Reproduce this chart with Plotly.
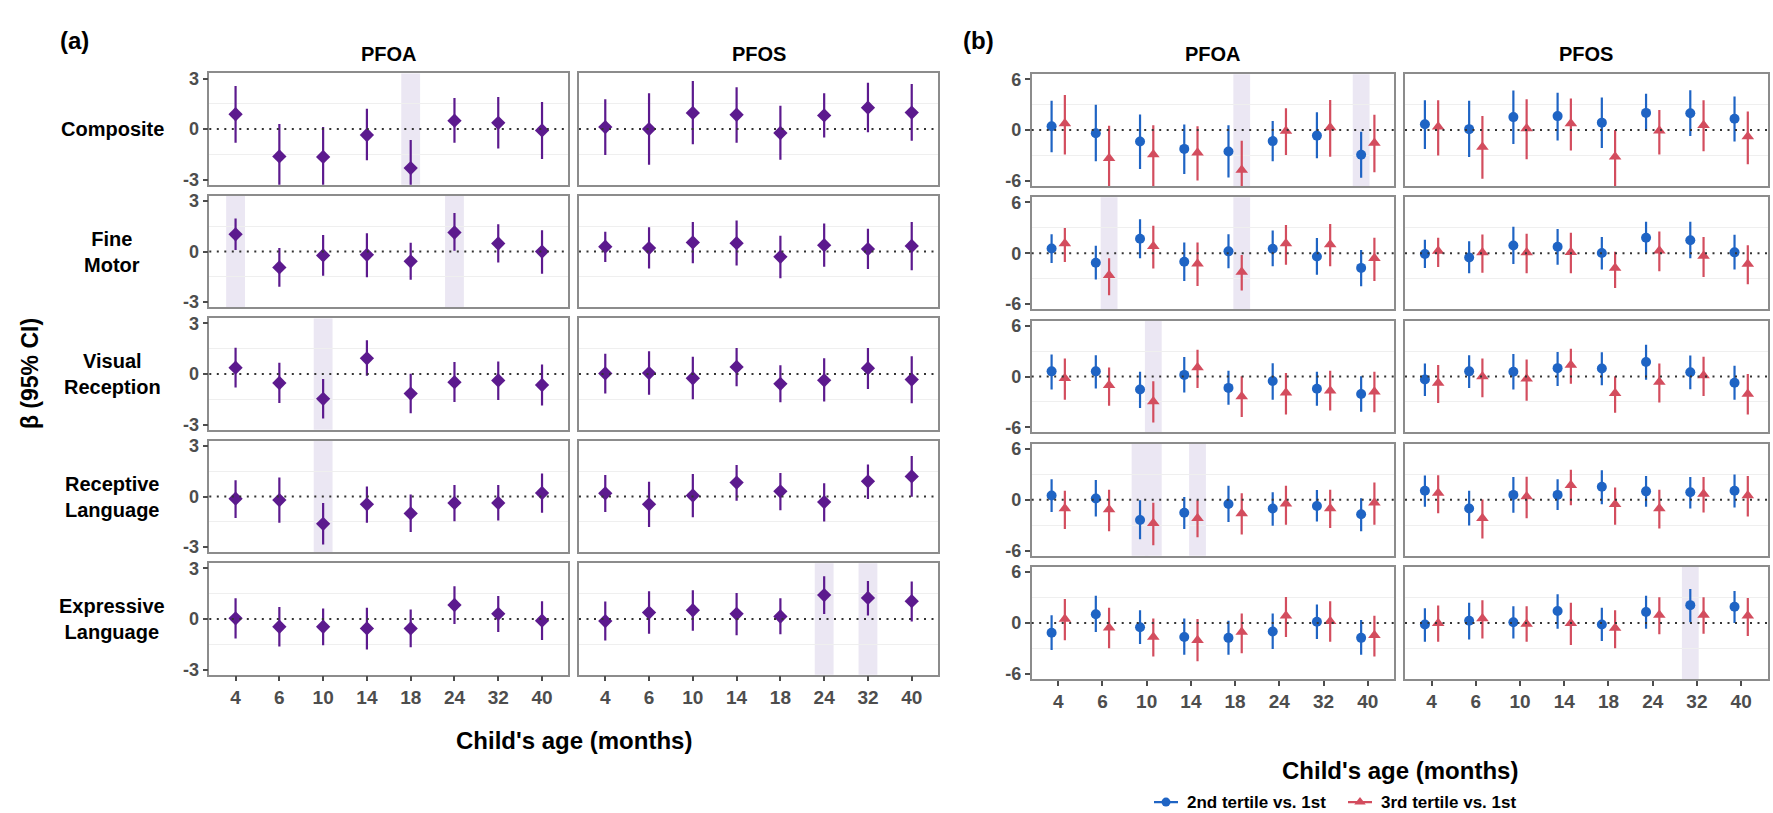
import plotly.graph_objects as go

W, H = 1773, 813

# ---------------- data ----------------
ages = ["4", "6", "10", "14", "18", "24", "32", "40"]
outcomes = ["Composite", "Fine Motor", "Visual Reception", "Receptive Language", "Expressive Language"]
row_labels = ["Composite", "Fine<br>Motor", "Visual<br>Reception", "Receptive<br>Language", "Expressive<br>Language"]
chemicals = ["PFOA", "PFOS"]
series_names = ["2nd tertile vs. 1st", "3rd tertile vs. 1st"]

# (a) continuous exposure: estimate, lower, upper  (rows = outcomes, cols = ages)
a_pfoa_est = [[0.88, -1.62, -1.65, -0.35, -2.31, 0.50, 0.37, -0.08],
              [1.02, -0.94, -0.23, -0.19, -0.58, 1.13, 0.48, 0.00],
              [0.38, -0.53, -1.47, 0.93, -1.16, -0.48, -0.38, -0.65],
              [-0.13, -0.21, -1.62, -0.46, -1.00, -0.38, -0.38, 0.21],
              [0.04, -0.46, -0.46, -0.56, -0.56, 0.83, 0.31, -0.10]]
a_pfoa_lo = [[-0.81, -3.60, -3.50, -1.85, -4.00, -0.81, -1.15, -1.77],
             [0.10, -2.08, -1.44, -1.52, -1.67, 0.05, -0.65, -1.31],
             [-0.80, -1.71, -2.63, -0.10, -2.32, -1.66, -1.54, -1.87],
             [-1.27, -1.56, -2.85, -1.56, -2.10, -1.46, -1.42, -0.96],
             [-1.15, -1.63, -1.56, -1.81, -1.67, -0.29, -0.77, -1.25]]
a_pfoa_hi = [[2.56, 0.31, 0.12, 1.21, -0.65, 1.85, 1.90, 1.60],
             [1.96, 0.21, 0.98, 1.08, 0.52, 2.29, 1.62, 1.27],
             [1.56, 0.67, -0.30, 2.00, 0.02, 0.72, 0.74, 0.57],
             [0.96, 1.13, -0.38, 0.60, 0.12, 0.69, 0.69, 1.37],
             [1.23, 0.71, 0.63, 0.67, 0.56, 1.94, 1.37, 1.06]]
a_pfos_est = [[0.12, 0.00, 0.96, 0.85, -0.23, 0.81, 1.27, 0.98],
              [0.29, 0.21, 0.54, 0.50, -0.31, 0.38, 0.15, 0.33],
              [0.04, 0.06, -0.25, 0.42, -0.58, -0.37, 0.35, -0.33],
              [0.19, -0.46, 0.06, 0.83, 0.31, -0.33, 0.90, 1.19],
              [-0.12, 0.38, 0.52, 0.31, 0.15, 1.42, 1.25, 1.06]]
a_pfos_lo = [[-1.54, -2.12, -0.90, -0.81, -1.81, -0.50, -0.19, -0.69],
             [-0.62, -1.00, -0.69, -0.83, -1.58, -0.90, -1.04, -1.10],
             [-1.15, -1.23, -1.50, -0.73, -1.67, -1.63, -0.88, -1.73],
             [-0.92, -1.81, -1.23, -0.25, -0.81, -1.48, -0.15, -0.02],
             [-1.27, -0.88, -0.69, -0.96, -0.90, 0.29, 0.21, -0.15]]
a_pfos_hi = [[1.77, 2.12, 2.85, 2.48, 1.38, 2.12, 2.75, 2.67],
             [1.17, 1.44, 1.75, 1.85, 0.94, 1.67, 1.35, 1.75],
             [1.21, 1.35, 1.02, 1.54, 0.52, 0.94, 1.54, 1.06],
             [1.27, 0.87, 1.33, 1.87, 1.40, 0.79, 1.90, 2.40],
             [1.04, 1.65, 1.71, 1.54, 1.23, 2.54, 2.25, 2.23]]

# (b) tertiles: t2 = 2nd vs 1st, t3 = 3rd vs 1st
b_pfoa_t2_est = [[0.46, -0.38, -1.34, -2.22, -2.53, -1.30, -0.65, -2.91],
                 [0.57, -1.11, 1.72, -1.00, 0.23, 0.54, -0.38, -1.72],
                 [0.61, 0.61, -1.53, 0.19, -1.34, -0.53, -1.45, -2.06],
                 [0.50, 0.15, -2.38, -1.53, -0.50, -1.03, -0.73, -1.72],
                 [-1.15, 1.03, -0.50, -1.65, -1.76, -1.00, 0.15, -1.76]]
b_pfoa_t2_lo = [[-2.60, -3.68, -4.60, -5.17, -5.60, -3.68, -3.33, -5.63],
                [-1.15, -3.10, -0.57, -3.26, -1.76, -1.53, -2.53, -3.90],
                [-1.53, -1.41, -3.70, -1.87, -3.32, -2.75, -3.44, -4.16],
                [-1.46, -1.99, -4.67, -3.45, -2.64, -3.07, -2.57, -3.72],
                [-3.18, -1.07, -2.49, -3.75, -3.75, -3.07, -1.88, -3.75]]
b_pfoa_t2_hi = [[3.45, 3.00, 1.84, 0.65, 0.57, 1.07, 2.10, -0.19],
                [2.26, 0.88, 4.02, 1.26, 2.26, 2.68, 1.80, 0.38],
                [2.60, 2.52, 0.57, 2.29, 0.69, 1.56, 0.57, 0.02],
                [2.41, 2.34, -0.05, 0.31, 1.65, 0.88, 1.15, 0.19],
                [0.92, 3.22, 1.49, 0.54, 0.27, 1.11, 2.18, 0.34]]
b_pfoa_t3_est = [[0.77, -3.33, -2.87, -2.68, -4.71, -0.11, 0.31, -1.53],
                 [1.15, -2.60, 0.84, -1.23, -2.22, 1.15, 1.03, -0.57],
                 [-0.19, -1.03, -2.94, 1.07, -2.37, -1.91, -1.68, -1.79],
                 [-1.03, -1.15, -2.76, -2.18, -1.61, -0.46, -1.03, -0.34],
                 [0.46, -0.57, -1.65, -2.03, -1.07, 0.84, 0.19, -1.46]]
b_pfoa_t3_lo = [[-2.87, -7.00, -6.90, -5.94, -8.00, -2.95, -3.14, -4.98],
                [-1.03, -4.94, -1.80, -3.87, -4.40, -1.34, -1.53, -3.26],
                [-2.75, -3.44, -5.42, -1.34, -4.77, -4.47, -4.00, -4.20],
                [-3.45, -3.72, -5.36, -4.41, -4.10, -2.95, -3.33, -2.95],
                [-2.03, -2.99, -3.95, -4.52, -3.56, -1.65, -2.22, -3.95]]
b_pfoa_t3_hi = [[4.14, 0.50, 0.57, 0.46, -1.26, 2.57, 3.56, 1.80],
                [2.99, -0.57, 3.26, 1.26, -0.19, 3.33, 3.45, 1.84],
                [2.14, 1.07, -0.57, 3.17, 0.02, 0.42, 0.69, 0.57],
                [1.07, 1.19, -0.34, -0.05, 0.77, 1.65, 1.19, 2.03],
                [2.83, 1.80, 0.54, 0.46, 1.11, 3.07, 2.57, 0.84]]
b_pfos_t2_est = [[0.69, 0.11, 1.53, 1.65, 0.88, 2.03, 1.99, 1.34],
                 [-0.08, -0.50, 0.92, 0.77, 0.04, 1.84, 1.53, 0.11],
                 [-0.34, 0.61, 0.57, 0.99, 0.95, 1.72, 0.50, -0.73],
                 [1.07, -1.03, 0.57, 0.57, 1.53, 0.99, 0.88, 1.07],
                 [-0.19, 0.27, 0.08, 1.41, -0.19, 1.30, 2.10, 1.91]]
b_pfos_t2_lo = [[-2.22, -3.18, -1.65, -1.23, -2.11, -0.11, -0.69, -1.34],
                [-1.72, -2.34, -1.26, -1.34, -1.92, -0.02, -0.57, -1.92],
                [-2.29, -1.34, -1.53, -1.11, -1.03, -0.38, -1.49, -2.75],
                [-0.84, -3.05, -1.53, -1.22, -0.53, -0.84, -1.03, -0.92],
                [-2.21, -1.95, -1.83, -0.69, -2.14, -0.69, 0.08, -0.02]]
b_pfos_t2_hi = [[3.52, 3.45, 4.67, 4.41, 3.83, 4.29, 4.71, 3.95],
                [1.61, 1.42, 3.14, 2.87, 1.92, 3.72, 3.72, 2.18],
                [1.53, 2.52, 2.67, 2.90, 2.86, 3.74, 2.48, 1.26],
                [2.86, 1.07, 2.67, 2.41, 3.47, 2.79, 2.67, 2.98],
                [1.72, 2.37, 1.98, 3.40, 1.79, 3.21, 4.01, 3.78]]
b_pfos_t3_est = [[0.38, -1.99, 0.19, 0.77, -3.14, -0.08, 0.57, -0.77],
                 [0.27, 0.08, 0.08, 0.11, -1.72, 0.31, -0.31, -1.26],
                 [-0.76, 0.00, -0.27, 1.37, -1.98, -0.65, 0.11, -2.06],
                 [0.80, -2.18, 0.38, 1.72, -0.53, -1.03, 0.69, 0.50],
                 [-0.04, 0.53, -0.11, -0.04, -0.61, 0.95, 0.95, 0.84]]
b_pfos_t3_lo = [[-2.99, -5.75, -3.45, -2.41, -7.20, -2.87, -2.49, -4.02],
                [-1.61, -2.30, -2.34, -2.34, -4.10, -2.11, -2.80, -3.64],
                [-3.13, -2.44, -2.86, -0.84, -4.27, -3.05, -2.29, -4.47],
                [-1.60, -4.58, -2.18, -0.65, -2.94, -3.40, -1.49, -1.98],
                [-2.21, -1.83, -2.21, -2.60, -2.98, -1.34, -1.26, -1.53]]
b_pfos_t3_hi = [[3.52, 1.65, 3.64, 3.72, 0.02, 2.38, 3.52, 2.18],
                [1.84, 2.22, 2.30, 2.41, 0.19, 2.57, 1.92, 0.96],
                [1.37, 2.14, 2.02, 3.28, 0.02, 1.53, 2.33, 0.31],
                [2.90, 0.02, 2.71, 3.55, 1.45, 1.18, 2.67, 2.79],
                [2.06, 2.67, 1.98, 2.37, 1.49, 3.02, 3.02, 2.94]]

# highlighted (significant) estimates
highlights_a = [("PFOA", "Composite", "18"), ("PFOA", "Fine Motor", "4"), ("PFOA", "Fine Motor", "24"),
                ("PFOA", "Visual Reception", "10"), ("PFOA", "Receptive Language", "10"),
                ("PFOS", "Expressive Language", "24"), ("PFOS", "Expressive Language", "32")]
highlights_b = [("PFOA", "Composite", "18", 1), ("PFOA", "Composite", "40", 0),
                ("PFOA", "Fine Motor", "6", 1), ("PFOA", "Fine Motor", "18", 1),
                ("PFOA", "Visual Reception", "10", 1),
                ("PFOA", "Receptive Language", "10", 0), ("PFOA", "Receptive Language", "10", 1),
                ("PFOA", "Receptive Language", "14", 1),
                ("PFOS", "Expressive Language", "32", 0)]

# ---------------- style ----------------
FONT = "Liberation Sans, Arial, Helvetica, sans-serif"
PURPLE = "#5c1a8e"
BLUE = "#1f64c4"
RED = "#d34d5e"
BAND = "#ebe7f3"
BORDER = "#8c8c8c"
TICKC = "#4d4d4d"
GRID = "#efefef"
SER_COLORS = [BLUE, RED]
SER_SYMBOLS = ["circle", "triangle-up"]
SER_SIZES = [10, 11]

A_COLS = [(209.3, 568.3), (579.0, 938.0)]
B_COLS = [(1031.7, 1394.3), (1405.0, 1767.7)]
A_ROW_TOP, A_ROW_PITCH, A_ROW_H = 69.3, 124.0, 112.7
B_ROW_TOP, B_ROW_PITCH, B_ROW_H = 70.0, 124.75, 113.3
DODGE = 0.15

xpos = list(range(1, len(ages) + 1))

fig = go.Figure()
layout = {}
shapes = []
annotations = []


def seg_xy(xs, lo, hi):
    X, Y = [], []
    for x, l, h in zip(xs, lo, hi):
        X += [x, x, None]
        Y += [l, h, None]
    return X, Y


k = 0
panels = [
    ("a", A_COLS, A_ROW_TOP, A_ROW_PITCH, A_ROW_H, 3.3, [-3, 0, 3], [-1.5, 1.5]),
    ("b", B_COLS, B_ROW_TOP, B_ROW_PITCH, B_ROW_H, 6.6, [-6, 0, 6], [-3, 3]),
]
for pname, cols, rtop, rpitch, rh, yr, yt, ym in panels:
    for ci, chem in enumerate(chemicals):
        x0p, x1p = cols[ci]
        for ri, outc in enumerate(outcomes):
            k += 1
            top = rtop + ri * rpitch
            bot = top + rh
            xa = "xaxis" if k == 1 else f"xaxis{k}"
            ya = "yaxis" if k == 1 else f"yaxis{k}"
            xr = "x" if k == 1 else f"x{k}"
            yrf = "y" if k == 1 else f"y{k}"
            bottom_row = ri == len(outcomes) - 1
            left_col = ci == 0
            layout[xa] = dict(
                domain=[x0p / W, x1p / W], anchor=yrf, range=[0.4, 8.6],
                tickvals=xpos, ticktext=ages, showticklabels=bottom_row,
                ticks="outside" if bottom_row else "", ticklen=5, tickwidth=1.5, tickcolor=TICKC,
                tickfont=dict(family=FONT, size=19, color=TICKC, weight="bold"),
                showgrid=False, zeroline=False, showline=True, mirror=True,
                linecolor=BORDER, linewidth=1.5, fixedrange=True,
            )
            layout[ya] = dict(
                domain=[1 - bot / H, 1 - top / H], anchor=xr, range=[-yr, yr],
                tickvals=yt, ticktext=[str(v) for v in yt], showticklabels=left_col,
                ticks="outside" if left_col else "", ticklen=5, tickwidth=1.5, tickcolor=TICKC,
                tickfont=dict(family=FONT, size=18, color=TICKC, weight="bold"),
                showgrid=False, zeroline=False, showline=True, mirror=True,
                linecolor=BORDER, linewidth=1.5, fixedrange=True,
                minor=dict(tickvals=ym, showgrid=True, gridcolor=GRID, gridwidth=1, ticks=""),
            )
            # zero reference line
            shapes.append(dict(type="line", xref=f"{xr} domain", yref=yrf, x0=0, x1=1, y0=0, y1=0,
                               line=dict(color="#333333", width=2, dash="2px,5.5px"), layer="above"))
            if pname == "a":
                for (hc, ho, hage) in highlights_a:
                    if hc == chem and ho == outc:
                        p = ages.index(hage) + 1
                        shapes.append(dict(type="rect", xref=xr, yref=f"{yrf} domain",
                                           x0=p - 0.215, x1=p + 0.215, y0=0, y1=1,
                                           fillcolor=BAND, line=dict(width=0), layer="below"))
                est = (a_pfoa_est if chem == "PFOA" else a_pfos_est)[ri]
                lo = (a_pfoa_lo if chem == "PFOA" else a_pfos_lo)[ri]
                hi = (a_pfoa_hi if chem == "PFOA" else a_pfos_hi)[ri]
                X, Y = seg_xy(xpos, lo, hi)
                fig.add_trace(go.Scatter(x=X, y=Y, xaxis=xr, yaxis=yrf, mode="lines",
                                         line=dict(color=PURPLE, width=2.2), showlegend=False,
                                         hoverinfo="skip"))
                fig.add_trace(go.Scatter(x=xpos, y=est, xaxis=xr, yaxis=yrf, mode="markers",
                                         marker=dict(symbol="diamond", size=11, color=PURPLE,
                                                     line=dict(width=0)),
                                         showlegend=False))
            else:
                for (hc, ho, hage, hs) in highlights_b:
                    if hc == chem and ho == outc:
                        p = ages.index(hage) + 1 + (-DODGE if hs == 0 else DODGE)
                        shapes.append(dict(type="rect", xref=xr, yref=f"{yrf} domain",
                                           x0=p - 0.19, x1=p + 0.19, y0=0, y1=1,
                                           fillcolor=BAND, line=dict(width=0), layer="below"))
                if chem == "PFOA":
                    sets = [(b_pfoa_t2_est, b_pfoa_t2_lo, b_pfoa_t2_hi),
                            (b_pfoa_t3_est, b_pfoa_t3_lo, b_pfoa_t3_hi)]
                else:
                    sets = [(b_pfos_t2_est, b_pfos_t2_lo, b_pfos_t2_hi),
                            (b_pfos_t3_est, b_pfos_t3_lo, b_pfos_t3_hi)]
                for si, (e, l, h) in enumerate(sets):
                    off = -DODGE if si == 0 else DODGE
                    xs = [p + off for p in xpos]
                    X, Y = seg_xy(xs, l[ri], h[ri])
                    fig.add_trace(go.Scatter(x=X, y=Y, xaxis=xr, yaxis=yrf, mode="lines",
                                             line=dict(color=SER_COLORS[si], width=2.2),
                                             showlegend=False, hoverinfo="skip"))
                    fig.add_trace(go.Scatter(x=xs, y=e[ri], xaxis=xr, yaxis=yrf, mode="markers",
                                             name=series_names[si],
                                             marker=dict(symbol=SER_SYMBOLS[si], size=SER_SIZES[si],
                                                         color=SER_COLORS[si], line=dict(width=0)),
                                             showlegend=False))
            # row labels (panel a only, left column)
            if pname == "a" and ci == 0:
                annotations.append(dict(text=f"<b>{row_labels[ri]}</b>", x=112 / W,
                                        y=1 - (top + rh / 2) / H, xref="paper", yref="paper",
                                        xanchor="center", yanchor="middle", showarrow=False,
                                        font=dict(family=FONT, size=20, color="black")))
        # strip labels
        annotations.append(dict(text=f"<b>{chem}</b>", x=(x0p + x1p) / 2 / W, y=1 - 50 / H,
                                xref="paper", yref="paper", xanchor="center", yanchor="middle",
                                showarrow=False, font=dict(family=FONT, size=20, color="black")))

# ---------------- legend (drawn as keys in a small invisible axis) ----------------
LEG_Y = 807               # vertical centre of the legend row (px from top)
LEG_KEY_X = [1166, 1360]  # key centres (px)
LEG_HALF = 12
layout["xaxis21"] = dict(domain=[1100 / W, 1560 / W], range=[1100, 1560], visible=False,
                         anchor="y21", fixedrange=True)
layout["yaxis21"] = dict(domain=[0, 30 / H], range=[H, H - 30], visible=False,
                         anchor="x21", fixedrange=True)
for si, name in enumerate(series_names):
    cx = LEG_KEY_X[si]
    fig.add_trace(go.Scatter(x=[cx - LEG_HALF, cx + LEG_HALF], y=[LEG_Y, LEG_Y], xaxis="x21",
                             yaxis="y21", mode="lines", line=dict(color=SER_COLORS[si], width=2.2),
                             showlegend=False, hoverinfo="skip", cliponaxis=False))
    fig.add_trace(go.Scatter(x=[cx], y=[LEG_Y], xaxis="x21", yaxis="y21", mode="markers",
                             marker=dict(symbol=SER_SYMBOLS[si], size=SER_SIZES[si] - 1,
                                         color=SER_COLORS[si]),
                             showlegend=False, hoverinfo="skip", cliponaxis=False))
    annotations.append(dict(text=f"<b>{name}</b>", x=(cx + LEG_HALF + 7) / W, y=1 - LEG_Y / H,
                            xref="paper", yref="paper", xanchor="left", yanchor="middle",
                            showarrow=False, font=dict(family=FONT, size=17, color="black")))

# titles / panel tags
annotations += [
    dict(text="<b>(a)</b>", x=74 / W, y=1 - 36 / H, xref="paper", yref="paper", xanchor="center",
         yanchor="middle", showarrow=False, font=dict(family=FONT, size=24, color="black")),
    dict(text="<b>(b)</b>", x=978 / W, y=1 - 36 / H, xref="paper", yref="paper", xanchor="center",
         yanchor="middle", showarrow=False, font=dict(family=FONT, size=24, color="black")),
    dict(text="<b>Child's age (months)</b>", x=573.5 / W, y=1 - 745 / H, xref="paper", yref="paper",
         xanchor="center", yanchor="middle", showarrow=False,
         font=dict(family=FONT, size=24, color="black")),
    dict(text="<b>Child's age (months)</b>", x=1400 / W, y=1 - 775 / H, xref="paper", yref="paper",
         xanchor="center", yanchor="middle", showarrow=False,
         font=dict(family=FONT, size=24, color="black")),
    dict(text="<b>β (95% CI)</b>", x=30 / W, y=1 - 373.7 / H, xref="paper", yref="paper",
         xanchor="center", yanchor="middle", textangle=-90, showarrow=False,
         font=dict(family=FONT, size=23, color="black")),
]

fig.update_layout(
    width=W, height=H, margin=dict(l=0, r=0, t=0, b=0),
    paper_bgcolor="white", plot_bgcolor="white",
    shapes=shapes, annotations=annotations,
    showlegend=False,
    **layout,
)

fig.write_html("out.html")
